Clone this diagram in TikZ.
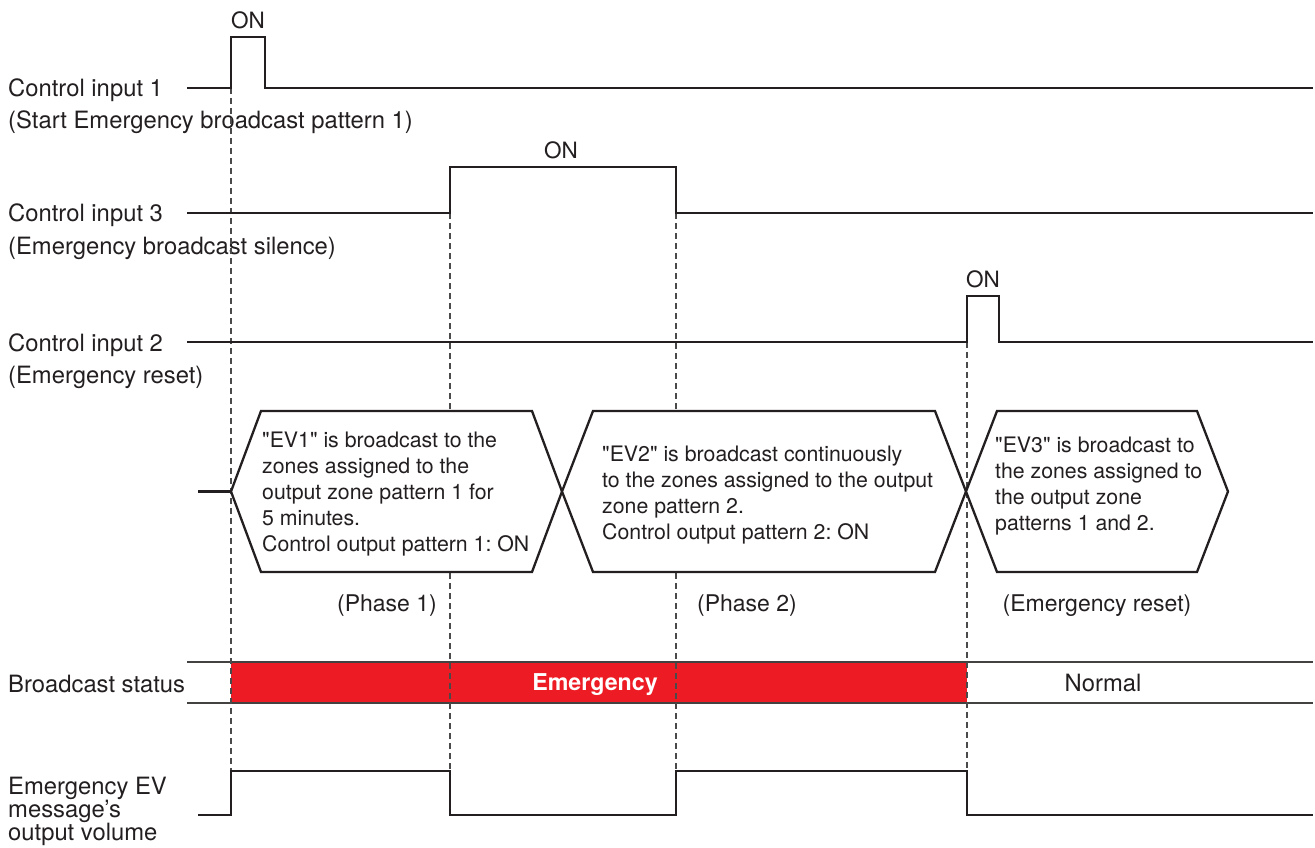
\documentclass[tikz,border=0pt]{standalone}
\usepackage{fontspec}
\setmainfont{TeX Gyre Heros}[Ligatures=TeXOff]
\frenchspacing
\definecolor{ink}{HTML}{231F20}
\definecolor{alarm}{HTML}{ED1C24}
\definecolor{dash}{HTML}{4A4A4A}
\begin{document}
\begin{tikzpicture}[x=1pt,y=-1pt,
  sig/.style={line width=2.3pt, draw=ink, line join=miter},
  hexbox/.style={line width=2.3pt, draw=ink, fill=white, line join=miter},
  rail/.style={line width=1.3pt, draw=ink!85},
  guide/.style={line width=1.1pt, draw=dash, dash pattern=on 6pt off 4pt},
  lbl/.style={inner sep=0pt, anchor=base west, text=ink, font=\fontsize{23.8}{28}\selectfont},
  ontxt/.style={inner sep=0pt, anchor=base, text=ink, font=\fontsize{22.5}{26}\selectfont},
  hextxt/.style={inner sep=0pt, anchor=north west, align=left, text=ink, font=\fontsize{21.3}{26}\selectfont},
  phase/.style={inner sep=0pt, anchor=base, text=ink, font=\fontsize{23}{26}\selectfont}]
\useasboundingbox (0,0) rectangle (1315,848);

% left labels
\node[lbl] (l1a) at (8,97) {Control input 1};
\node[lbl] (l1b) at (8,129) {(Start Emergency broadcast pattern 1)};
\node[lbl] (l3a) at (8,222) {Control input 3};
\node[lbl] (l3b) at (8,254) {(Emergency broadcast silence)};
\node[lbl] (l2a) at (8,351) {Control input 2};
\node[lbl] (l2b) at (8,383) {(Emergency reset)};
\node[lbl] (lbs) at (8,692) {Broadcast status};
\node[lbl] (lv1) at (8,794) {Emergency EV};
\node[lbl] (lv2) at (8,817) {message’s};
\node[lbl] (lv3) at (8,840) {output volume};

% broadcast status band
\fill[alarm] (231,662) rectangle (967,703);
\draw[rail] (187,662) -- (1313,662);
\draw[rail] (187,703) -- (1313,703);
\node[inner sep=0pt, anchor=base, text=white, font=\bfseries\fontsize{23.2}{26}\selectfont] (emg) at (595,690) {Emergency};
\node[inner sep=0pt, anchor=base, text=ink, font=\fontsize{23.8}{26}\selectfont] (nrm) at (1103,691) {Normal};

% guide lines
\coordinate (g1t) at (231,88);  \coordinate (g1b) at (231,771);
\coordinate (g2t) at (450,213); \coordinate (g2b) at (450,771);
\coordinate (g3t) at (676,213); \coordinate (g3b) at (676,771);
\coordinate (g4t) at (967,342); \coordinate (g4b) at (967,771);
\draw[guide] (g1t) -- (g1b);
\draw[guide] (g2t) -- (g2b);
\draw[guide] (g3t) -- (g3b);
\draw[guide] (g4t) -- (g4b);

% control input 1
\draw[sig] (187,88) -- (231,88) -- (231,37) -- (265,37) -- (265,88) -- (1313,88);
\node[ontxt] (on1) at (248,29) {ON};
% control input 3
\draw[sig] (187,213) -- (450,213) -- (450,167) -- (676,167) -- (676,213) -- (1313,213);
\node[ontxt] (on3) at (561,159) {ON};
% control input 2
\draw[sig] (187,342) -- (967,342) -- (967,296) -- (999,296) -- (999,342) -- (1313,342);
\node[ontxt] (on2) at (983,287) {ON};

% hexagons
\draw[sig] (198,491.5) -- (231,491.5);
\draw[hexbox] (231,491.5) -- (261,411) -- (532,411) -- (562,491.5) -- (532,572) -- (261,572) -- cycle;
\draw[hexbox] (562,491.5) -- (593,411) -- (935,411) -- (966,491.5) -- (935,572) -- (593,572) -- cycle;
\draw[hexbox] (966,491.5) -- (997,411) -- (1197,411) -- (1228,491.5) -- (1197,572) -- (997,572) -- cycle;
\node[hextxt] (t1) at (262,432) {"EV1" is broadcast to the\\zones assigned to the\\output zone pattern 1 for\\5 minutes.\\Control output pattern 1: ON};
\node[hextxt] (t2) at (602,446) {"EV2" is broadcast continuously\\to the zones assigned to the output\\zone pattern 2.\\Control output pattern 2: ON};
\node[hextxt] (t3) at (995,437) {"EV3" is broadcast to\\the zones assigned to\\the output zone\\patterns 1 and 2.};

\node[phase] (p1) at (387,611) {(Phase 1)};
\node[phase] (p2) at (747,611) {(Phase 2)};
\node[phase] (p3) at (1097,611) {(Emergency reset)};

% output volume
\draw[sig] (198,815) -- (231,815) -- (231,771) -- (450,771) -- (450,815) -- (676,815) -- (676,771) -- (967,771) -- (967,815) -- (1313,815);
\end{tikzpicture}
\end{document}
